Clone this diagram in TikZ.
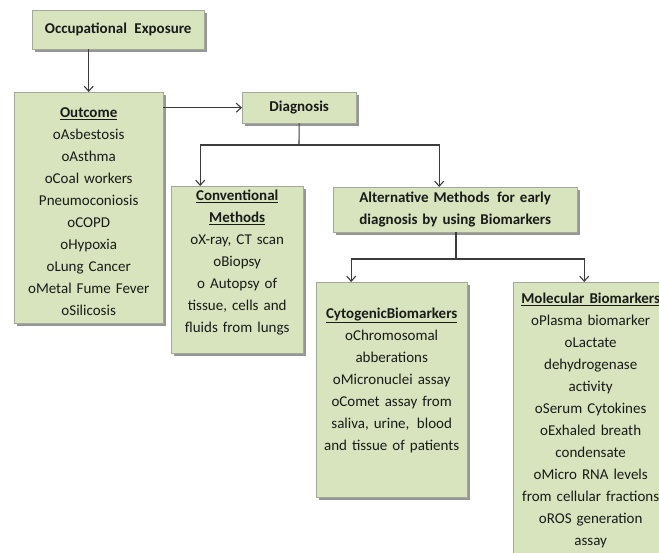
\documentclass[tikz,border=0pt]{standalone}
\usepackage{fontspec}
\setmainfont{Carlito}
\usetikzlibrary{arrows.meta, positioning, shadows, calc}
\definecolor{boxgreen}{HTML}{D7E4BD}
\definecolor{boxedge}{HTML}{A3A898}
\definecolor{linegray}{HTML}{3C3C3C}
\definecolor{textdark}{HTML}{1A1A1A}

\begin{document}
\begin{tikzpicture}[
    x=1pt, y=-1pt,
    box/.style={draw=boxedge, fill=boxgreen, font=\fontsize{15}{22}\selectfont, text=textdark, align=center, anchor=north west, inner sep=3pt, drop shadow={shadow xshift=2.5pt, shadow yshift=-2.5pt, fill=black!55, opacity=.75}},
    link/.style={draw=linegray, line width=1.1pt, -{Straight Barb[length=5pt, width=9pt]}},
]
\useasboundingbox (0,0) rectangle (659,552);

\node[box, text width=166pt, minimum height=39pt] (occ) at (32,10) {\textbf{Occupational\, Exposure}};
\node[box, text width=143pt, text height=22pt, text depth=203pt] (outcome) at (14,92)
    {\underline{\textbf{Outcome}}\\oAsbestosis\\oAsthma\\oCoal workers\\Pneumoconiosis\\oCOPD\\oHypoxia\\oLung Cancer\\oMetal Fume Fever\\oSilicosis};
\node[box, text width=108pt, minimum height=31pt] (diag) at (242,92) {\textbf{Diagnosis}};
\node[box, text width=126pt, text height=11pt, text depth=150pt] (conv) at (171,186)
    {\underline{\textbf{Conventional}}\\\underline{\textbf{Methods}}\\oX-ray, CT scan\\oBiopsy\\o Autopsy of\\tissue, cells and\\fluids from lungs};
\node[box, text width=238pt, minimum height=45pt] (alt) at (333,187)
    {\textbf{Alternative Methods\, for early}\\\textbf{diagnosis by using Biomarkers}};
\node[box, text width=145pt, text height=33pt, text depth=176pt] (cyto) at (316,282)
    {\underline{\textbf{CytogenicBiomarkers}}\\oChromosomal\\abberations\\oMicronuclei assay\\oComet assay from\\saliva, urine,\, blood\\and tissue of patients};
\node[box, text width=149pt, text height=18pt, text depth=266pt] (mol) at (513,282)
    {\underline{\textbf{Molecular Biomarkers}}\\oPlasma biomarker\\oLactate\\dehydrogenase\\activity\\oSerum Cytokines\\oExhaled breath\\condensate\\oMicro RNA levels\\from cellular fractions\\oROS generation\\assay};

\coordinate (split) at (299,145);
\coordinate (fork) at (456,259);

\draw[link] (occ.south -| outcome.north) -- (outcome.north);
\draw[link] (outcome.east |- diag.west) -- (diag.west);
\draw[linegray, line width=1.1pt] (diag.south) -- (split);
\draw[link] (split) -| ([xshift=-37pt]conv.north);
\draw[link] (split) -| ([xshift=-16pt]alt.north);
\draw[linegray, line width=1.1pt] (alt.south -| fork) -- (fork);
\draw[link] (fork) -| ([xshift=-40.5pt]cyto.north);
\draw[link] (fork) -| ([xshift=-6.5pt]mol.north);

\end{tikzpicture}
\end{document}
